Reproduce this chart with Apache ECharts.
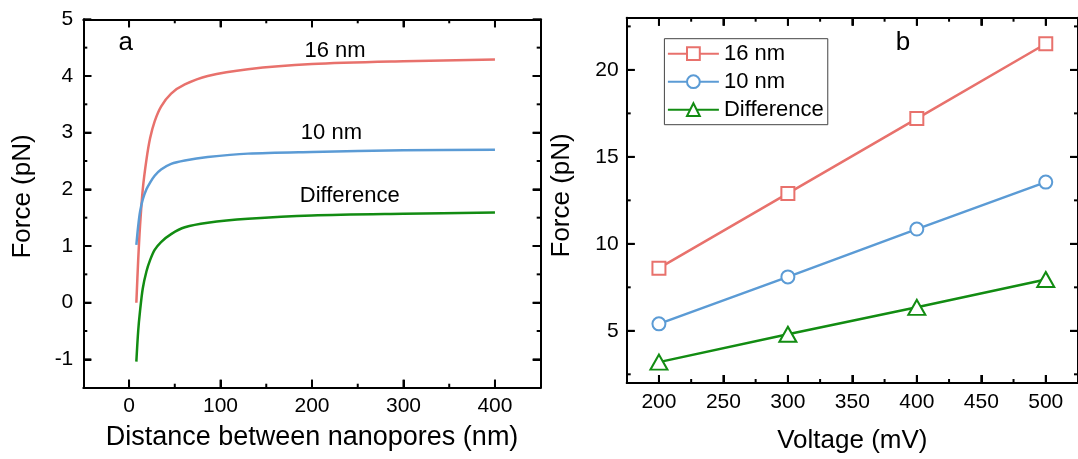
<!DOCTYPE html>
<html><head><meta charset="utf-8">
<script src="https://cdn.jsdelivr.net/npm/echarts@6/dist/echarts.min.js"></script>
<style>html,body{margin:0;padding:0;background:#fff}#c{width:1078px;height:459px}</style>
</head><body><div id="c"></div>
<script>
// Panel a: force vs distance between nanopores
const distance = [8, 10, 12, 15, 19, 23, 28, 35, 46, 61, 86, 130, 200, 300, 400];
const force16 = [0.0, 0.75, 1.35, 2.0, 2.52, 2.9, 3.2, 3.46, 3.69, 3.85, 4.0, 4.12, 4.21, 4.26, 4.29];
const force10 = [1.02, 1.35, 1.6, 1.82, 2.0, 2.12, 2.24, 2.35, 2.45, 2.51, 2.57, 2.63, 2.66, 2.69, 2.70];
const forceDiff = [-1.04, -0.5, -0.15, 0.25, 0.55, 0.75, 0.93, 1.07, 1.21, 1.33, 1.41, 1.48, 1.54, 1.57, 1.59];
// Panel b: force vs voltage
const voltage = [200, 300, 400, 500];
const volt16 = [8.6, 12.9, 17.2, 21.5];
const volt10 = [5.4, 8.1, 10.85, 13.55];
const voltDiff = [3.2, 4.8, 6.35, 7.95];
// Tick labels (major) and minor tick values
const majorAX = [0, 100, 200, 300, 400];
const minorAX = [50, 150, 250, 350];
const majorAY = [-1, 0, 1, 2, 3, 4, 5];
const minorAY = [-0.5, 0.5, 1.5, 2.5, 3.5, 4.5];
const majorBX = [200, 250, 300, 350, 400, 450, 500];
const minorBX = [225, 275, 325, 375, 425, 475];
const majorBY = [5, 10, 15, 20];
const minorBY = [2.5, 7.5, 12.5, 17.5, 22.5];
const seriesNames = ['16 nm', '10 nm', 'Difference'];

const FONT = 'Liberation Sans, Arial, sans-serif';
const RED = '#e8716c', BLUE = '#5b9bd5', GREEN = '#128c12';
const EXT = { a: { x: [-50, 450], y: [-1.5, 5] }, b: { x: [175, 525], y: [2, 23] } };

function pairs(xs, ys) { return xs.map((x, i) => [x, ys[i]]); }

function axis(grid, pos, ext, ticks, labels, margin, name, nameGap, extra) {
  const a = {
    type: 'value', gridIndex: grid, position: pos, min: ext[0], max: ext[1],
    axisLine: { show: true, onZero: false, lineStyle: { color: '#000', width: 2 } },
    splitLine: { show: false },
    axisTick: { show: true, inside: true, length: 8, customValues: ticks,
      lineStyle: { color: '#000', width: 2 } },
    axisLabel: labels ? { show: true, customValues: labels, fontSize: 21, color: '#000',
      fontFamily: FONT, margin: margin } : { show: false, customValues: ticks }
  };
  if (name) {
    a.name = name; a.nameLocation = 'middle'; a.nameGap = nameGap;
    a.nameTextStyle = Object.assign({ fontSize: 26, color: '#000', fontFamily: FONT }, extra || {});
  }
  return a;
}

// Inward tick marks on all four sides, placed through the axes' own scales
function tickSeries(axisIdx, ext, major, minor, majorY, minorY) {
  const out = [];
  const add = (data, size, offset) => out.push({
    type: 'scatter', xAxisIndex: axisIdx, yAxisIndex: axisIdx, data: data,
    symbol: 'rect', symbolSize: size, symbolOffset: offset, clip: false, silent: true,
    itemStyle: { color: '#000', opacity: 1 }, z: 10, zlevel: 1,
    emphasis: { disabled: true }, tooltip: { show: false }
  });
  [[major, 8], [minor, 4]].forEach(([vals, L]) => {
    add(vals.map(v => [v, ext.y[0]]), [2, L], [0, -L / 2]);
    add(vals.map(v => [v, ext.y[1]]), [2, L], [0, L / 2]);
  });
  [[majorY, 8], [minorY, 4]].forEach(([vals, L]) => {
    add(vals.map(v => [ext.x[0], v]), [L, 2], [L / 2, 0]);
    add(vals.map(v => [ext.x[1], v]), [L, 2], [-L / 2, 0]);
  });
  return out;
}

const option = {
  animation: false,
  backgroundColor: '#fff',
  grid: [
    { left: 83.3, top: 19.3, width: 457.4, height: 368.4 },
    { left: 626.7, top: 17.7, width: 455.9, height: 368 }
  ],
  xAxis: [
    axis(0, 'bottom', EXT.a.x, majorAX, majorAX, 8, 'Distance between nanopores (nm)', 36, { fontSize: 27 }),
    axis(0, 'top', EXT.a.x, majorAX, null),
    axis(1, 'bottom', EXT.b.x, majorBX, majorBX, 9, 'Voltage (mV)', 45),
    axis(1, 'top', EXT.b.x, majorBX, null)
  ],
  yAxis: [
    axis(0, 'left', EXT.a.y, majorAY, majorAY, 10, 'Force (pN)', 47, { padding: [0, 0, 0, 14] }),
    axis(0, 'right', EXT.a.y, majorAY, null),
    axis(1, 'left', EXT.b.y, majorBY, majorBY, 8, 'Force (pN)', 52, { padding: [0, 0, 0, 10] }),
    axis(1, 'right', EXT.b.y, majorBY, null)
  ],
  legend: {
    data: seriesNames,
    orient: 'vertical',
    left: 664.4, top: 38.7,
    padding: [4, 4, 4, 2.5],
    itemWidth: 51, itemHeight: 16, itemGap: 6,
    borderColor: '#444', borderWidth: 1,
    backgroundColor: '#fff',
    textStyle: { fontSize: 22, color: '#000', fontFamily: FONT, lineHeight: 22 }
  },
  graphic: [
    { type: 'text', style: { x: 125.7, y: 43.3, text: 'a', fontSize: 26, fontFamily: FONT, fill: '#000', align: 'center', verticalAlign: 'middle' } },
    { type: 'text', style: { x: 903, y: 43.3, text: 'b', fontSize: 26, fontFamily: FONT, fill: '#000', align: 'center', verticalAlign: 'middle' } },
    { type: 'text', style: { x: 335, y: 51.3, text: '16 nm', fontSize: 22, fontFamily: FONT, fill: '#000', align: 'center', verticalAlign: 'middle' } },
    { type: 'text', style: { x: 331.4, y: 133.4, text: '10 nm', fontSize: 22, fontFamily: FONT, fill: '#000', align: 'center', verticalAlign: 'middle' } },
    { type: 'text', style: { x: 349.7, y: 196.2, text: 'Difference', fontSize: 22, fontFamily: FONT, fill: '#000', align: 'center', verticalAlign: 'middle' } }
  ],
  series: [
    { name: '16 nm vs distance', type: 'line', xAxisIndex: 0, yAxisIndex: 0, data: pairs(distance, force16),
      showSymbol: false, smooth: 0.3, lineStyle: { color: RED, width: 2.5 }, itemStyle: { color: RED } },
    { name: '10 nm vs distance', type: 'line', xAxisIndex: 0, yAxisIndex: 0, data: pairs(distance, force10),
      showSymbol: false, smooth: 0.3, lineStyle: { color: BLUE, width: 2.5 }, itemStyle: { color: BLUE } },
    { name: 'Difference vs distance', type: 'line', xAxisIndex: 0, yAxisIndex: 0, data: pairs(distance, forceDiff),
      showSymbol: false, smooth: 0.3, lineStyle: { color: GREEN, width: 2.5 }, itemStyle: { color: GREEN } },
    { name: seriesNames[0], type: 'line', xAxisIndex: 2, yAxisIndex: 2, data: pairs(voltage, volt16),
      symbol: 'emptyRect', symbolSize: 13, lineStyle: { color: RED, width: 2.5 }, itemStyle: { color: RED, borderWidth: 1.8 } },
    { name: seriesNames[1], type: 'line', xAxisIndex: 2, yAxisIndex: 2, data: pairs(voltage, volt10),
      symbol: 'emptyCircle', symbolSize: 13, lineStyle: { color: BLUE, width: 2.5 }, itemStyle: { color: BLUE, borderWidth: 1.8 } },
    { name: seriesNames[2], type: 'line', xAxisIndex: 2, yAxisIndex: 2, data: pairs(voltage, voltDiff),
      symbol: 'emptyTriangle', symbolSize: [17, 15], lineStyle: { color: GREEN, width: 2.5 }, itemStyle: { color: GREEN, borderWidth: 1.8 } }
  ].concat(
    tickSeries(0, EXT.a, majorAX, minorAX, majorAY, minorAY),
    tickSeries(2, EXT.b, majorBX, minorBX, majorBY, minorBY)
  )
};
const chart = echarts.init(document.getElementById('c'), null, { renderer: 'canvas' });
chart.setOption(option);
</script>
</body></html>
